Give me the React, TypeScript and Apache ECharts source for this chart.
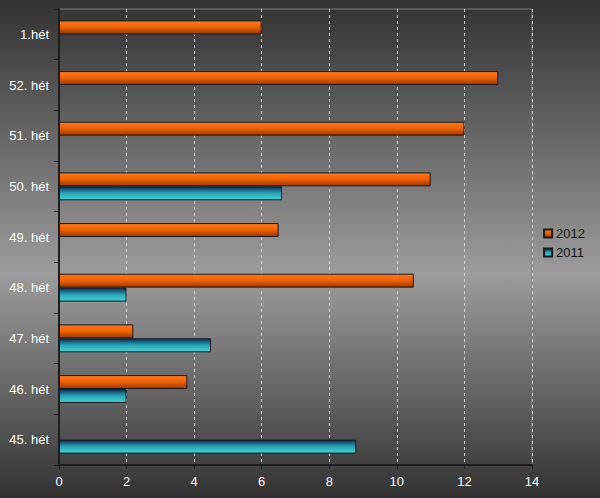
import React, { useEffect, useRef } from "react";
import * as echarts from "echarts";

const categories = ["45. hét", "46. hét", "47. hét", "48. hét", "49. hét", "50. hét", "51. hét", "52. hét", "1.hét"];
const values2012 = [null, 3.8, 2.2, 10.5, 6.5, 11, 12, 13, 6];
const values2011 = [8.8, 2, 4.5, 2, null, 6.6, null, null, null];
const xTicks = { min: 0, max: 14, interval: 2 };

export default function App() {
  const ref = useRef<HTMLDivElement>(null);
  useEffect(() => {
    if (!ref.current) return;
    const chart = echarts.init(ref.current, undefined, { renderer: "svg" });
    const orange = new echarts.graphic.LinearGradient(0, 0, 0, 1, [
      { offset: 0, color: "#ff7a1e" },
      { offset: 0.5, color: "#f06000" },
      { offset: 1, color: "#963800" },
    ]);
    const teal = new echarts.graphic.LinearGradient(0, 0, 0, 1, [
      { offset: 0, color: "#082c5a" },
      { offset: 0.5, color: "#2aa6b6" },
      { offset: 1, color: "#40d4d4" },
    ]);
    chart.setOption({
      animation: false,
      backgroundColor: new echarts.graphic.LinearGradient(0, 0, 0, 1, [
        { offset: 0, color: "#323232" },
        { offset: 0.55, color: "#9c9c9c" },
        { offset: 1, color: "#323232" },
      ]),
      textStyle: { fontFamily: "Arial, 'Liberation Sans', sans-serif" },
      grid: {
        left: 59,
        right: 68,
        top: 9,
        bottom: 33,
        show: true,
        borderColor: "#7c7c7c",
        borderWidth: 1,
      },
      legend: {
        data: ["2012", "2011"],
        orient: "vertical",
        right: 10,
        top: 222,
        icon: "rect",
        itemWidth: 8,
        itemHeight: 8,
        itemGap: 6,
        textStyle: { color: "#111", fontSize: 13, padding: [0, 0, 0, -1] },
      },
      xAxis: {
        type: "value",
        min: xTicks.min,
        max: xTicks.max,
        interval: xTicks.interval,
        axisLine: { show: true, lineStyle: { color: "#1e1e1e", width: 2 } },
        axisTick: { show: true, length: 4, lineStyle: { color: "#1e1e1e" } },
        axisLabel: { color: "#ffffff", fontSize: 13, margin: 10 },
        splitLine: { show: true, lineStyle: { color: "#d0d0d0", type: [3, 3], width: 1 } },
      },
      yAxis: {
        type: "category",
        data: categories,
        axisLine: { show: true, lineStyle: { color: "#1e1e1e", width: 2 } },
        axisTick: { show: true, length: 5, lineStyle: { color: "#1e1e1e" } },
        axisLabel: { color: "#ffffff", fontSize: 13, margin: 10 },
        splitLine: { show: false },
      },
      series: [
        {
          name: "2012",
          type: "bar",
          data: values2012,
          barGap: "0%",
          barCategoryGap: "45%",
          itemStyle: { color: orange, borderColor: "#1a1a1a", borderWidth: 1 },
        },
        {
          name: "2011",
          type: "bar",
          data: values2011,
          barGap: "0%",
          barCategoryGap: "45%",
          itemStyle: { color: teal, borderColor: "#1a1a1a", borderWidth: 1 },
        },
      ],
    });
    return () => chart.dispose();
  }, []);
  return (
    <div
      ref={ref}
      style={{ position: "fixed", left: 0, top: 0, width: 600, height: 498 }}
    />
  );
}
